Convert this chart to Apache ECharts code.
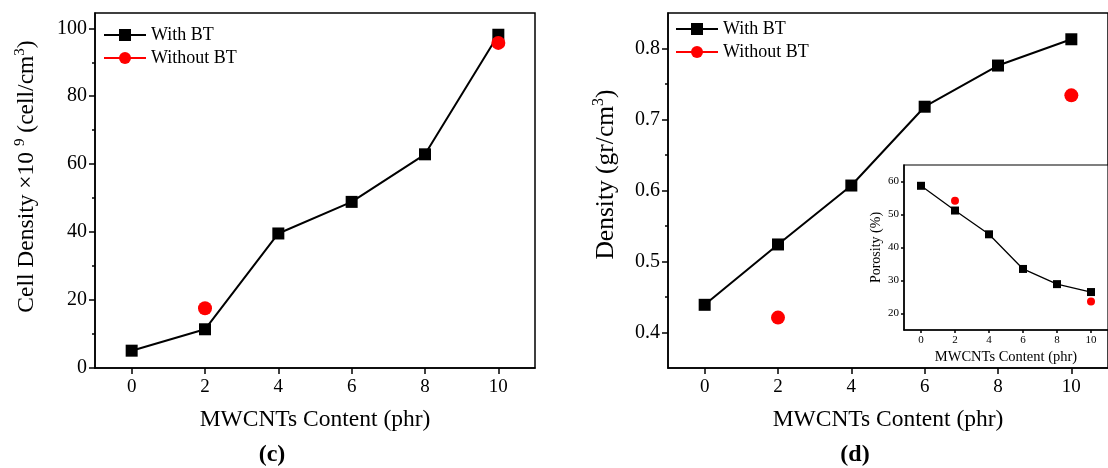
<!DOCTYPE html>
<html>
<head>
<meta charset="utf-8">
<script src="https://cdn.jsdelivr.net/npm/echarts@6/dist/echarts.min.js"></script>
<style>html,body{margin:0;padding:0;background:#fff}#c{width:1108px;height:468px}</style>
</head>
<body>
<div id="c"></div>
<script>
// ---- data ----
const mwcnt = [0, 2, 4, 6, 8, 10];
const cellWithBT = [5.1, 11.4, 39.6, 48.9, 62.9, 98.1];
const cellWithoutBT = [null, 17.6, null, null, null, 95.7];
const densWithBT = [0.439, 0.524, 0.607, 0.718, 0.776, 0.813];
const densWithoutBT = [null, 0.421, null, null, null, 0.734];
const porWithBT = [58.7, 51.2, 44.0, 33.5, 28.9, 26.5];
const porWithoutBT = [null, 54.2, null, null, null, 23.6];
const xTicks = [0, 2, 4, 6, 8, 10];
const cellTicks = [0, 20, 40, 60, 80, 100];
const cellMinor = [10, 30, 50, 70, 90];
const densTicks = [0.4, 0.5, 0.6, 0.7, 0.8];
const densMinor = [0.45, 0.55, 0.65, 0.75];
const porTicks = [20, 30, 40, 50, 60];

const F = '"Liberation Serif", "Times New Roman", serif';
const pairs = (xs, ys) => xs.map((x, i) => [x, ys[i]]);

function xAx(grid, min, max, fs, tickLen, margin, name, nameFs, nameGap) {
  return {
    type: 'value', gridIndex: grid, min: min, max: max, position: 'bottom',
    axisLine: { show: true, onZero: false, lineStyle: { color: '#000', width: 1.5 } },
    axisTick: { show: true, customValues: xTicks, length: tickLen, lineStyle: { color: '#000', width: 1.5 } },
    axisLabel: { customValues: xTicks, fontFamily: F, fontSize: fs, color: '#000', margin: margin },
    splitLine: { show: false },
    name: name, nameLocation: 'middle', nameGap: nameGap,
    nameTextStyle: { fontFamily: F, fontSize: nameFs, color: '#000' }
  };
}
function yAx(grid, min, max, ticks, fs, tickLen, margin, name, nameFs, nameGap, rich, fmt, pad) {
  return {
    type: 'value', gridIndex: grid, min: min, max: max, position: 'left',
    axisLine: { show: true, onZero: false, lineStyle: { color: '#000', width: 1.5 } },
    axisTick: { show: true, customValues: ticks, length: tickLen, lineStyle: { color: '#000', width: 1.5 } },
    axisLabel: { customValues: ticks, fontFamily: F, fontSize: fs, color: '#000', margin: margin, formatter: fmt },
    splitLine: { show: false },
    name: name, nameLocation: 'middle', nameGap: nameGap, nameRotate: 90,
    nameTextStyle: { fontFamily: F, fontSize: nameFs, color: '#000', rich: rich || {}, padding: pad || 0 }
  };
}
function yMinor(grid, min, max, ticks) {
  return {
    type: 'value', gridIndex: grid, min: min, max: max, position: 'left', offset: 0,
    axisLine: { show: false, onZero: false },
    axisTick: { show: true, customValues: ticks, length: 3, lineStyle: { color: '#000', width: 1.5 } },
    axisLabel: { show: false }, splitLine: { show: false }
  };
}

const supRich = {
  sup: { fontFamily: F, fontSize: 15, color: '#000', verticalAlign: 'top', lineHeight: 28 },
  n: { fontFamily: F, fontSize: 23.5, color: '#000', lineHeight: 28 }
};
const supRich2 = {
  sup: { fontFamily: F, fontSize: 16, color: '#000', verticalAlign: 'top', lineHeight: 30 },
  n: { fontFamily: F, fontSize: 25.5, color: '#000', lineHeight: 30 }
};

const legendText = { fontFamily: F, fontSize: 18, color: '#000' };

const chart = echarts.init(document.getElementById('c'));
chart.setOption({
  backgroundColor: '#fff',
  animation: false,
  grid: [
    { left: 95, top: 13, right: 573, bottom: 100, show: true, borderColor: '#000', borderWidth: 1.5, backgroundColor: '#fff' },
    { left: 668, top: 13, right: -9, bottom: 100, show: true, borderColor: '#000', borderWidth: 1.5, backgroundColor: '#fff' },
    { left: 904, top: 165, right: -6, bottom: 138, show: true, borderColor: '#000', borderWidth: 1.2, backgroundColor: '#fff', z: 5 }
  ],
  xAxis: [
    xAx(0, -1, 11, 19, 6, 10, 'MWCNTs Content (phr)', 23.5, 40),
    xAx(1, -1, 11, 19, 6, 10, 'MWCNTs Content (phr)', 23.5, 40),
    Object.assign(xAx(2, -1, 11, 11, 3, 5, 'MWCNTs Content (phr)', 14.5, 20), { z: 6 })
  ],
  yAxis: [
    yAx(0, 0, 104.5, cellTicks, 20, 6, 8, '{n|Cell Density ×10 }{sup|9}{n| (cell/cm}{sup|3}{n|)}', 23.5, 54, supRich, undefined, [0, 0, 0, 28]),
    yMinor(0, 0, 104.5, cellMinor),
    yAx(1, 0.35, 0.85, densTicks, 20, 6, 8, '{n|Density (gr/cm}{sup|3}{n|)}', 25.5, 47, supRich2, v => v.toFixed(1), [0, 0, 0, 32]),
    yMinor(1, 0.35, 0.85, densMinor),
    Object.assign(yAx(2, 15, 65, porTicks, 11, 3, 5, 'Porosity (%)', 14, 21), { z: 6 })
  ],
  legend: [
    { left: 103, top: 26, padding: 0, orient: 'vertical', itemWidth: 42, itemHeight: 15, itemGap: 5,
      data: ['With BT', 'Without BT'], textStyle: legendText },
    { left: 675, top: 20, padding: 0, orient: 'vertical', itemWidth: 42, itemHeight: 15, itemGap: 5,
      data: ['With BT', 'Without BT'], textStyle: legendText }
  ],
  series: [
    { name: 'With BT', type: 'line', xAxisIndex: 0, yAxisIndex: 0, data: pairs(mwcnt, cellWithBT),
      symbol: 'rect', symbolSize: 12, color: '#000', itemStyle: { color: '#000' }, lineStyle: { color: '#000', width: 2 } },
    { name: 'Without BT', type: 'line', xAxisIndex: 0, yAxisIndex: 0, data: pairs(mwcnt, cellWithoutBT),
      symbol: 'circle', symbolSize: 14, color: '#ff0000', itemStyle: { color: '#ff0000' }, lineStyle: { color: '#ff0000', width: 2 }, connectNulls: false },
    { name: 'With BT', type: 'line', xAxisIndex: 1, yAxisIndex: 2, data: pairs(mwcnt, densWithBT),
      symbol: 'rect', symbolSize: 12, color: '#000', itemStyle: { color: '#000' }, lineStyle: { color: '#000', width: 2 } },
    { name: 'Without BT', type: 'line', xAxisIndex: 1, yAxisIndex: 2, data: pairs(mwcnt, densWithoutBT),
      symbol: 'circle', symbolSize: 14, color: '#ff0000', itemStyle: { color: '#ff0000' }, lineStyle: { color: '#ff0000', width: 2 }, connectNulls: false },
    { name: 'Porosity With BT', type: 'line', xAxisIndex: 2, yAxisIndex: 4, data: pairs(mwcnt, porWithBT), z: 7,
      symbol: 'rect', symbolSize: 8, itemStyle: { color: '#000' }, lineStyle: { color: '#000', width: 1.3 } },
    { name: 'Porosity Without BT', type: 'line', xAxisIndex: 2, yAxisIndex: 4, data: pairs(mwcnt, porWithoutBT), z: 7,
      symbol: 'circle', symbolSize: 8, itemStyle: { color: '#ff0000' }, lineStyle: { color: '#ff0000', width: 1.3 }, connectNulls: false }
  ],
  graphic: [
    { type: 'text', x: 272, y: 455, style: { text: '(c)', font: 'bold 24px "Liberation Serif"', fill: '#000', align: 'center', verticalAlign: 'middle' } },
    { type: 'text', x: 855, y: 455, style: { text: '(d)', font: 'bold 24px "Liberation Serif"', fill: '#000', align: 'center', verticalAlign: 'middle' } }
  ]
});
</script>
</body>
</html>
